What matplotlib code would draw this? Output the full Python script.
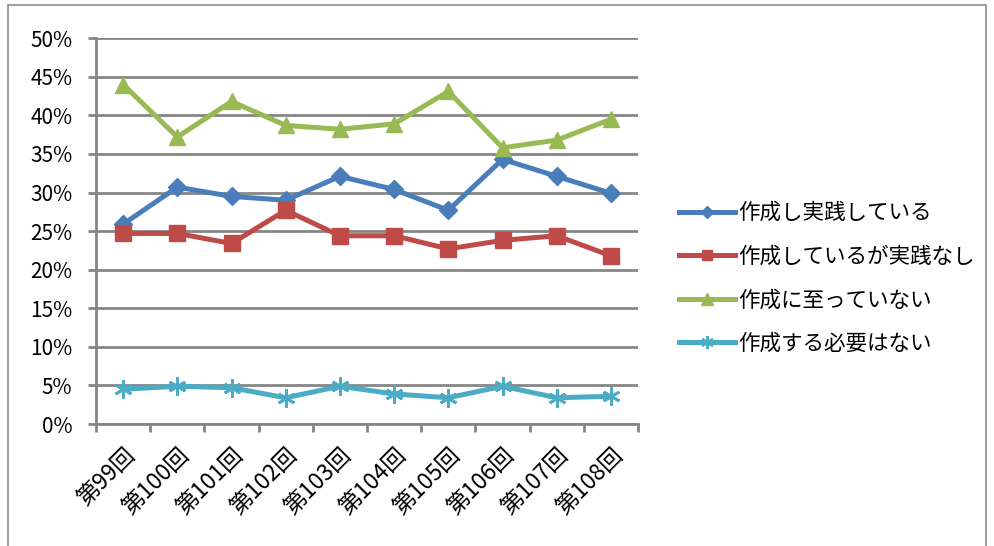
import numpy as np
import matplotlib
matplotlib.use('Agg')
import matplotlib.pyplot as plt
from matplotlib.patches import Rectangle
from matplotlib.ticker import FixedLocator, FuncFormatter

plt.rcParams['font.family'] = ['Noto Sans CJK JP', 'DejaVu Sans']

# survey rounds
rounds = ['第99回', '第100回', '第101回', '第102回', '第103回',
          '第104回', '第105回', '第106回', '第107回', '第108回']

# share of respondents (%)
practiced = [25.9, 30.7, 29.5, 29.0, 32.1, 30.4, 27.7, 34.3, 32.1, 29.9]
not_practiced = [24.7, 24.7, 23.4, 27.7, 24.4, 24.4, 22.7, 23.8, 24.4, 21.8]
not_yet = [44.0, 37.2, 41.8, 38.7, 38.2, 38.9, 43.1, 35.8, 36.8, 39.5]
not_needed = [4.5, 4.9, 4.7, 3.4, 4.9, 3.9, 3.4, 4.9, 3.4, 3.6]

labels = ['作成し実践している', '作成しているが実践なし', '作成に至っていない', '作成する必要はない']

fig = plt.figure(figsize=(9.94, 5.46), dpi=100)
fig.patches.append(Rectangle((0.008, -0.01), 0.984, 1.0, transform=fig.transFigure,
                             fill=False, edgecolor='#8c8c8c', linewidth=1.2))
ax = fig.add_axes([0.0966, 0.2234, 0.5453, 0.7066])

x = np.arange(len(rounds))
series = [
    (practiced, '#4a7ebb', 'D', 9),
    (not_practiced, '#be4b48', 's', 11),
    (not_yet, '#98b954', '^', 12),
    (not_needed, '#4bacc6', (6, 2, 0), 13),
]
for (vals, color, marker, ms), lab in zip(series, labels):
    ax.plot(x, vals, color=color, linewidth=3.6, marker=marker, markersize=ms,
            markeredgecolor=color, markeredgewidth=2 if marker == (6, 2, 0) else 1,
            label=lab, zorder=3)

ax.set_xlim(-0.5, len(rounds) - 0.5)
ax.set_ylim(0, 50)
ax.yaxis.set_major_locator(FixedLocator(np.arange(0, 51, 5)))
ax.yaxis.set_major_formatter(FuncFormatter(lambda v, p: f'{v:.0f}%'))
ax.grid(axis='y', color='#868686', linewidth=2, zorder=0)
ax.set_axisbelow(True)

# category ticks sit between rounds, labels at the centres
ax.set_xticks(x)
ax.set_xticklabels(rounds, rotation=45, ha='right', rotation_mode='anchor', fontsize=16.5)
ax.set_xticks(np.arange(-0.5, len(rounds) + 0.5, 1), minor=True)
ax.tick_params(axis='x', which='major', length=0, pad=14)
ax.tick_params(axis='x', which='minor', length=6, width=2, color='#868686', direction='out')
ax.tick_params(axis='y', length=6, width=2, color='#868686', labelsize=15, pad=11)

for side in ['top', 'right']:
    ax.spines[side].set_visible(False)
for side in ['left', 'bottom']:
    ax.spines[side].set_color('#868686')
    ax.spines[side].set_linewidth(2)

fig.legend(*ax.get_legend_handles_labels(), loc='center left', bbox_to_anchor=(0.664, 0.49),
           frameon=False, fontsize=15.5, handlelength=2.6, handletextpad=0.15,
           labelspacing=1.0, markerscale=0.7)

fig.savefig('out.png', dpi=100)
